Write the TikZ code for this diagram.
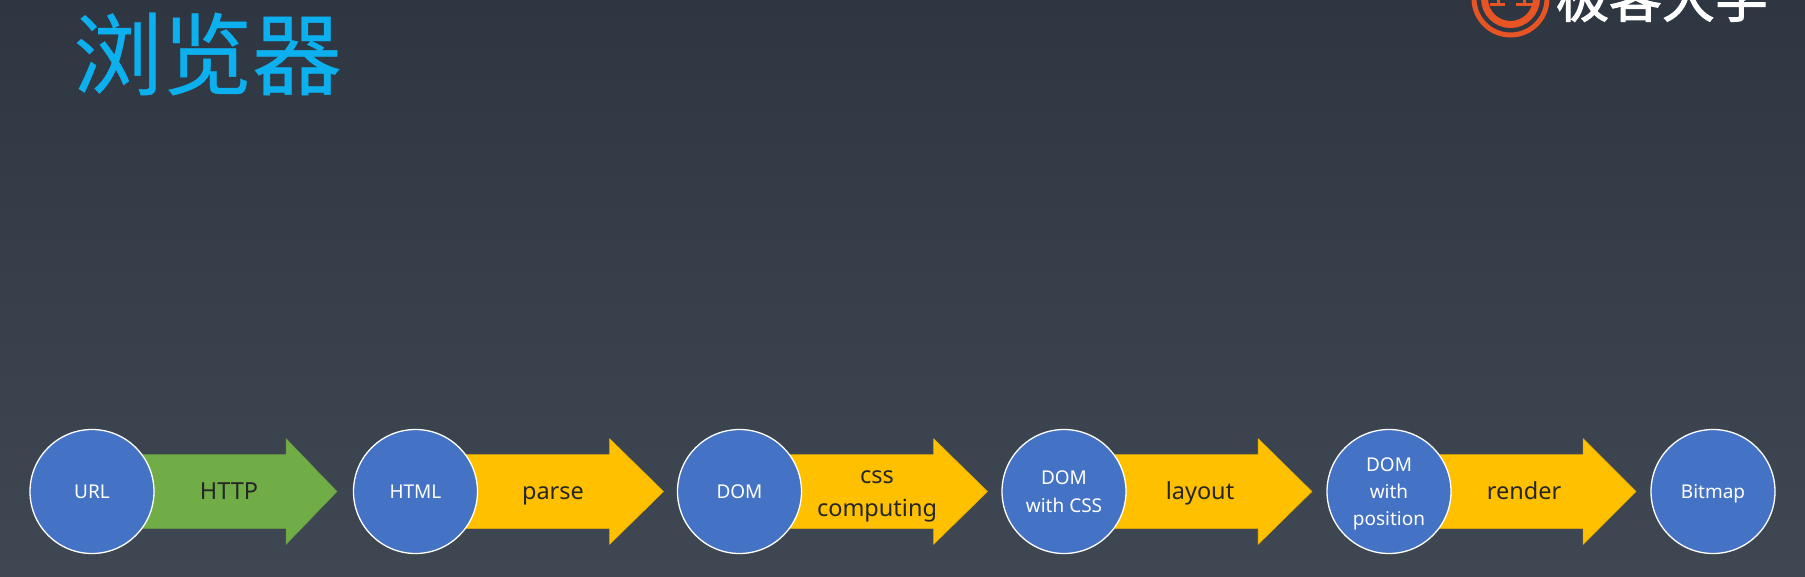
\documentclass[tikz,border=0pt]{standalone}
\usepackage{fontspec}
\setmainfont{Noto Sans}
\newfontfamily\cjktitle[FakeBold=0.4]{Noto Sans CJK SC}
\newfontfamily\cjklogo[FakeBold=2]{Noto Sans CJK SC}
\definecolor{bgtop}{RGB}{46,54,66}
\definecolor{bgbot}{RGB}{63,72,82}
\definecolor{circblue}{RGB}{68,114,196}
\definecolor{arrgreen}{RGB}{112,173,71}
\definecolor{arryellow}{RGB}{255,192,0}
\definecolor{titleblue}{RGB}{12,176,238}
\definecolor{logoorange}{RGB}{232,84,36}
\tikzset{
  stagecircle/.style={circle,draw=white,line width=1.3pt,fill=circblue,minimum size=124pt,inner sep=0pt,text=white,align=center,text depth=0pt,font=\fontsize{19}{27.3}\selectfont},
  greenarrow/.style={fill=arrgreen,draw=arrgreen!90!black,line width=0.5pt,miter limit=2},
  yellowarrow/.style={fill=arryellow,draw=arryellow!90!black,line width=0.5pt,miter limit=2},
  arrowlabel/.style={text=black!85,align=center,inner sep=0pt,text depth=0pt,font=\fontsize{23.5}{33}\selectfont},
  singlelabel/.style={arrowlabel,text height=16pt},
  logoring/.style={draw=logoorange},
}
\newcommand{\blockarrow}[3]{\path[#2] (#1) ++(0,-37) -- ++(194,0) -- ++(0,-16) -- ++(#3,53) -- ++(-#3,53) -- ++(0,-16) -- ++(-194,0) -- cycle;}
\begin{document}
\begin{tikzpicture}[x=1pt,y=-1pt]
\useasboundingbox (0,0) rectangle (1805,576);
\clip (0,0) rectangle (1805,576);
\shade[top color=bgtop,bottom color=bgbot] (0,0) rectangle (1805,576);
\node[text=titleblue,inner sep=0pt,anchor=center,font=\fontsize{89.5}{89.5}\selectfont\cjktitle] (title) at (207.5,54) {浏览器};
% logo
\draw[logoring,line width=5pt] (1510.5,-1.5) circle (36.5);
\draw[logoring,line width=7pt] (1510.5,-1.5) circle (26);
\draw[logoring,line width=3pt] (1490,4) -- (1505,4) (1498,-4) -- (1498,4);
\draw[logoring,line width=3pt] (1516,4) -- (1537,4) (1524,-4) -- (1524,4);
\node[text=white,inner sep=0pt,font=\fontsize{53}{53}\selectfont\cjklogo] (logo) at (1662,-3) {极客大学};
% arrows, behind the circles
\coordinate (c1) at (92,491.5);
\coordinate (c2) at (415.5,491.5);
\coordinate (c3) at (739.5,491.5);
\coordinate (c4) at (1064,491.5);
\coordinate (c5) at (1389,491.5);
\coordinate (c6) at (1713,491.5);
\blockarrow{c1}{greenarrow}{51}
\blockarrow{c2}{yellowarrow}{54}
\blockarrow{c3}{yellowarrow}{54}
\blockarrow{c4}{yellowarrow}{54}
\blockarrow{c5}{yellowarrow}{53}
\node[stagecircle] (url) at (c1) {URL};
\node[stagecircle] (html) at (c2) {HTML};
\node[stagecircle] (dom) at (c3) {DOM};
\node[stagecircle] (domcss) at (c4) {DOM\\with CSS};
\node[stagecircle] (dompos) at (c5) {DOM\\with\\position};
\node[stagecircle] (bitmap) at (c6) {Bitmap};
\node[singlelabel] (l1) at (229,491) {HTTP};
\node[singlelabel] (l2) at (553,491) {parse};
\node[arrowlabel] (l3) at (877,493.3) {css\\computing};
\node[singlelabel] (l4) at (1200,491) {layout};
\node[singlelabel] (l5) at (1524,491) {render};
\end{tikzpicture}
\end{document}
